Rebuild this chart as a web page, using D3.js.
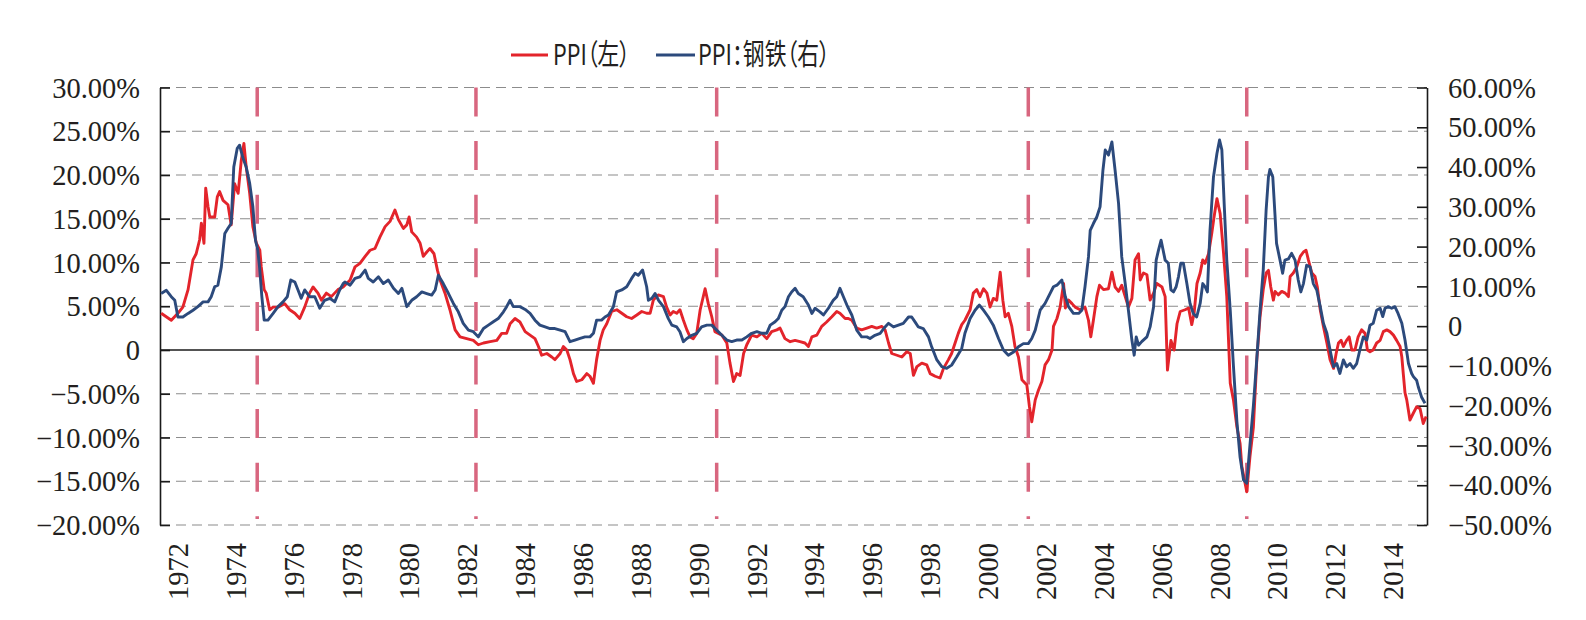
<!DOCTYPE html>
<html><head><meta charset="utf-8">
<script src="https://cdn.jsdelivr.net/npm/d3@7"></script>
<style>
html,body{margin:0;padding:0;background:#fff;}
svg{display:block;}
</style>
</head><body>
<svg id="chart" width="1586" height="620"></svg>
<script>
// ---------- DATA ----------
const yearTicks = [1972,1974,1976,1978,1980,1982,1984,1986,1988,1990,1992,1994,1996,1998,2000,2002,2004,2006,2008,2010,2012,2014];
const leftTicks = [30,25,20,15,10,5,0,-5,-10,-15,-20];
const rightTicks = [60,50,40,30,20,10,0,-10,-20,-30,-40,-50];
const markerDates = [1974.74,1982.30,1990.62,2001.39,2008.94];
const seriesNames = ["PPI（左）","PPI：钢铁（右）"];

const ppiDates = [1971.42,1971.77,1972.00,1972.17,1972.35,1972.52,1972.63,1972.75,1972.81,1972.90,1972.96,1973.04,1973.10,1973.27,1973.36,1973.44,1973.56,1973.73,1973.84,1973.96,1974.08,1974.19,1974.28,1974.36,1974.48,1974.59,1974.71,1974.83,1974.88,1974.98,1975.05,1975.17,1975.29,1975.46,1975.69,1975.86,1976.04,1976.21,1976.38,1976.55,1976.67,1976.84,1976.96,1977.13,1977.30,1977.53,1977.71,1977.95,1978.12,1978.29,1978.47,1978.64,1978.81,1978.98,1979.16,1979.33,1979.50,1979.62,1979.79,1979.91,1979.99,1980.08,1980.25,1980.37,1980.48,1980.60,1980.71,1980.85,1980.97,1981.06,1981.23,1981.40,1981.58,1981.75,1981.98,1982.21,1982.38,1982.56,1982.79,1983.02,1983.19,1983.36,1983.48,1983.65,1983.82,1984.00,1984.17,1984.34,1984.46,1984.57,1984.75,1984.92,1985.03,1985.21,1985.32,1985.44,1985.55,1985.67,1985.78,1985.96,1986.13,1986.24,1986.36,1986.47,1986.59,1986.70,1986.82,1986.99,1987.17,1987.34,1987.51,1987.68,1987.86,1988.03,1988.20,1988.32,1988.43,1988.60,1988.78,1988.89,1989.01,1989.12,1989.24,1989.35,1989.47,1989.59,1989.70,1989.81,1989.93,1990.05,1990.22,1990.33,1990.45,1990.56,1990.80,1990.97,1991.08,1991.20,1991.31,1991.43,1991.55,1991.66,1991.83,1992.01,1992.18,1992.35,1992.52,1992.70,1992.81,1992.98,1993.16,1993.33,1993.50,1993.67,1993.79,1993.91,1994.08,1994.25,1994.42,1994.60,1994.77,1994.88,1995.06,1995.17,1995.29,1995.46,1995.63,1995.81,1995.98,1996.15,1996.33,1996.44,1996.56,1996.67,1996.85,1997.02,1997.19,1997.31,1997.42,1997.54,1997.71,1997.88,1998.00,1998.17,1998.34,1998.46,1998.63,1998.74,1998.86,1998.97,1999.09,1999.20,1999.38,1999.49,1999.61,1999.72,1999.84,1999.96,2000.07,2000.18,2000.30,2000.42,2000.51,2000.59,2000.70,2000.82,2000.93,2001.05,2001.17,2001.34,2001.43,2001.51,2001.63,2001.74,2001.86,2001.97,2002.09,2002.21,2002.26,2002.38,2002.49,2002.61,2002.67,2002.78,2002.90,2003.01,2003.18,2003.35,2003.47,2003.55,2003.64,2003.76,2003.85,2003.99,2004.16,2004.28,2004.39,2004.51,2004.62,2004.74,2004.85,2004.97,2005.08,2005.20,2005.26,2005.37,2005.49,2005.60,2005.72,2005.83,2006.01,2006.12,2006.20,2006.32,2006.43,2006.53,2006.64,2006.81,2006.93,2007.04,2007.12,2007.22,2007.33,2007.42,2007.50,2007.62,2007.73,2007.81,2007.91,2008.02,2008.14,2008.25,2008.37,2008.48,2008.60,2008.71,2008.77,2008.94,2009.05,2009.17,2009.29,2009.40,2009.51,2009.61,2009.69,2009.77,2009.86,2009.92,2010.03,2010.15,2010.27,2010.38,2010.44,2010.55,2010.67,2010.79,2010.90,2010.99,2011.07,2011.19,2011.30,2011.38,2011.48,2011.59,2011.71,2011.82,2011.94,2012.03,2012.11,2012.20,2012.28,2012.39,2012.48,2012.57,2012.68,2012.79,2012.91,2013.03,2013.11,2013.20,2013.31,2013.43,2013.55,2013.66,2013.78,2013.89,2014.01,2014.12,2014.24,2014.30,2014.35,2014.41,2014.47,2014.58,2014.70,2014.81,2014.93,2015.04,2015.14];
const ppiValues = [4.2,3.4,4.2,4.9,6.9,10.3,11.0,12.6,14.5,12.2,18.5,16.4,15.2,15.2,17.5,18.1,17.1,16.6,14.3,19.0,17.9,21.7,23.6,20.9,17.9,14.1,12.2,11.4,9.5,6.9,6.5,4.6,4.9,4.9,5.3,4.6,4.2,3.6,4.9,6.5,7.2,6.5,5.7,6.5,6.1,6.9,7.2,8.0,9.5,9.9,10.7,11.4,11.6,12.9,14.1,14.7,16.0,14.9,13.9,14.3,15.2,13.5,12.9,12.2,10.7,11.2,11.6,11.0,9.1,8.0,6.5,4.6,2.3,1.5,1.3,1.1,0.6,0.8,0.95,1.1,1.9,1.9,3.0,3.6,3.2,2.1,1.7,1.3,0.4,-0.6,-0.4,-0.8,-1.1,-0.4,0.4,0,-1.1,-2.7,-3.6,-3.4,-2.7,-3.0,-3.8,-1.1,1.1,2.3,3.0,4.4,4.6,4.2,3.8,3.6,4.0,4.4,4.2,4.2,5.7,6.3,6.1,4.9,4.0,4.4,4.2,4.6,3.4,2.3,1.5,1.3,1.9,4.6,7.0,5.3,3.8,2.1,1.7,0.8,-1.5,-3.6,-2.7,-2.9,-0.4,0.6,1.7,1.5,1.9,1.3,2.1,2.3,2.5,1.3,0.95,1.1,0.95,0.8,0.4,1.5,1.7,2.7,3.2,3.8,4.4,4.2,3.6,3.6,3.4,2.5,2.3,2.5,2.7,2.5,2.7,2.3,0.8,-0.4,-0.6,-0.8,-0.2,-0.4,-2.9,-1.9,-1.5,-1.7,-2.7,-3.0,-3.2,-2.1,-1.1,-0.4,0.8,1.9,2.9,3.4,4.6,6.5,6.9,6.1,7.0,6.5,4.9,5.9,5.7,8.9,5.7,3.8,4.2,2.7,0.4,-0.8,-3.4,-4.0,-6.5,-8.2,-5.7,-4.6,-3.6,-1.7,-1.1,0.0,2.7,3.6,4.9,7.6,4.8,5.7,5.3,4.9,4.6,4.9,3.4,1.5,3.4,6.1,7.4,6.9,7.0,8.9,7.2,6.7,7.4,6.1,4.9,5.9,10.3,11.0,8.0,8.8,8.6,5.7,6.5,7.6,7.2,6.1,-2.3,1.1,0,3.0,4.4,4.6,4.8,2.9,4.2,7.6,8.8,10.3,9.9,11.0,13.3,15.2,17.3,15.6,11.0,6.1,-3.8,-5.7,-8.8,-10.7,-13.3,-16.2,-12.2,-8.8,-1.0,3.8,6.9,8.8,9.1,7.2,5.7,6.7,6.3,6.7,6.5,6.1,8.4,8.8,9.5,10.7,11.2,11.4,10.3,8.8,8.4,7.2,4.6,2.7,0.8,-1.1,-2.1,-0.4,0.8,1.1,0.4,1.1,1.5,0,0,1.5,2.3,1.9,0,-0.2,0,0.8,1.1,2.1,2.3,2.1,1.7,1.1,0.4,-0.8,-2.7,-4.9,-5.7,-8.0,-7.2,-6.5,-6.7,-8.4,-7.6];

const steelDates = [1971.42,1971.60,1971.77,1971.89,1972.00,1972.17,1972.35,1972.52,1972.69,1972.87,1973.04,1973.15,1973.27,1973.38,1973.50,1973.62,1973.73,1973.84,1973.93,1974.05,1974.13,1974.25,1974.36,1974.48,1974.59,1974.68,1974.76,1974.82,1974.90,1974.98,1975.11,1975.29,1975.46,1975.63,1975.78,1975.90,1976.04,1976.15,1976.26,1976.38,1976.55,1976.73,1976.90,1977.07,1977.25,1977.42,1977.59,1977.71,1977.77,1977.95,1978.12,1978.29,1978.47,1978.58,1978.75,1978.93,1979.10,1979.27,1979.45,1979.62,1979.74,1979.91,1980.08,1980.25,1980.43,1980.60,1980.77,1980.89,1981.00,1981.17,1981.35,1981.52,1981.69,1981.86,1982.04,1982.21,1982.38,1982.56,1982.73,1982.90,1983.07,1983.25,1983.36,1983.48,1983.59,1983.82,1984.00,1984.17,1984.34,1984.51,1984.69,1984.86,1985.03,1985.21,1985.38,1985.55,1985.72,1985.90,1986.07,1986.24,1986.36,1986.47,1986.64,1986.76,1986.88,1987.05,1987.16,1987.34,1987.51,1987.68,1987.80,1987.91,1988.06,1988.20,1988.26,1988.38,1988.49,1988.61,1988.78,1988.95,1989.07,1989.24,1989.35,1989.47,1989.59,1989.76,1989.93,1990.10,1990.28,1990.45,1990.62,1990.80,1990.97,1991.14,1991.31,1991.49,1991.66,1991.83,1992.01,1992.18,1992.35,1992.47,1992.64,1992.75,1992.87,1992.98,1993.10,1993.21,1993.33,1993.44,1993.61,1993.79,1993.91,1994.02,1994.19,1994.31,1994.48,1994.65,1994.77,1994.88,1995.00,1995.12,1995.29,1995.46,1995.63,1995.81,1995.92,1996.09,1996.27,1996.44,1996.56,1996.73,1996.90,1997.07,1997.25,1997.36,1997.48,1997.59,1997.76,1997.94,1998.05,1998.23,1998.40,1998.57,1998.74,1998.92,1999.09,1999.20,1999.38,1999.55,1999.70,1999.84,2000.01,2000.18,2000.36,2000.53,2000.70,2000.88,2001.05,2001.22,2001.39,2001.51,2001.63,2001.80,2001.97,2002.14,2002.26,2002.38,2002.55,2002.67,2002.78,2002.95,2003.13,2003.24,2003.35,2003.47,2003.53,2003.64,2003.76,2003.87,2003.97,2004.05,2004.16,2004.28,2004.39,2004.51,2004.62,2004.74,2004.85,2004.97,2005.05,2005.12,2005.20,2005.31,2005.49,2005.60,2005.72,2005.81,2005.89,2005.98,2006.12,2006.23,2006.32,2006.41,2006.50,2006.58,2006.66,2006.75,2006.87,2006.98,2007.09,2007.21,2007.33,2007.42,2007.50,2007.58,2007.67,2007.79,2007.91,2008.00,2008.08,2008.16,2008.25,2008.37,2008.48,2008.60,2008.71,2008.83,2008.94,2009.05,2009.17,2009.29,2009.40,2009.51,2009.61,2009.69,2009.74,2009.84,2009.92,2009.97,2010.09,2010.18,2010.26,2010.38,2010.49,2010.61,2010.72,2010.81,2010.90,2011.01,2011.13,2011.24,2011.36,2011.48,2011.59,2011.71,2011.82,2011.94,2012.05,2012.16,2012.28,2012.39,2012.51,2012.62,2012.74,2012.85,2012.97,2013.09,2013.20,2013.31,2013.43,2013.55,2013.64,2013.72,2013.83,2013.95,2014.06,2014.17,2014.30,2014.41,2014.53,2014.64,2014.70,2014.81,2014.87,2014.98,2015.10];
const steelValues = [8.2,9.0,7.4,6.5,2.3,2.3,3.2,4.0,4.9,6.1,6.1,7.4,9.9,10.3,14.9,23.3,24.6,25.8,40.0,44.7,45.5,42.2,40.0,35.9,30.0,21.6,19.1,14.9,7.4,1.5,1.5,3.2,4.9,6.1,7.4,11.6,11.1,9.1,7.0,9.1,7.4,7.4,4.5,6.5,7.0,6.1,9.1,10.7,11.1,10.3,12.0,12.4,14.1,12.0,11.1,12.4,10.7,11.6,9.5,8.2,9.5,4.9,6.5,7.4,8.6,8.2,7.8,9.1,12.8,10.7,8.2,5.7,3.6,0.7,-1.0,-1.4,-2.7,-0.6,0.25,1.1,1.9,3.6,4.9,6.5,4.9,4.9,4.2,3.2,1.5,0.25,-0.2,-0.6,-0.6,-1.0,-1.4,-3.9,-3.5,-3.1,-2.7,-2.7,-1.8,1.5,1.5,2.3,2.8,4.9,8.6,9.1,9.9,12.0,13.3,12.8,14.1,9.9,6.5,7.0,8.2,6.5,4.9,1.9,0.25,-0.2,-1.4,-3.9,-3.1,-2.3,-1.8,-0.2,0.25,0.25,-1.0,-2.3,-3.5,-3.9,-3.5,-3.5,-2.7,-1.8,-1.4,-1.8,-1.8,0.25,1.1,1.9,4.0,4.9,7.4,8.6,9.5,8.2,7.4,5.3,3.2,4.5,3.6,2.8,4.5,6.5,7.4,9.5,7.4,5.3,2.8,-1.0,-2.7,-2.7,-3.1,-2.3,-1.8,-0.2,0.7,-0.2,0.25,0.7,2.3,2.3,1.0,-0.2,-0.6,-2.7,-5.2,-8.5,-10.2,-10.6,-9.8,-7.7,-5.6,-1.8,1.9,4.0,5.3,4.0,2.3,0.25,-3.1,-6.0,-7.3,-6.5,-5.2,-4.4,-4.4,-3.1,-1.0,4.0,5.7,8.2,9.9,10.3,11.6,7.4,4.9,3.2,3.2,4.0,9.9,17.4,24.1,25.8,27.5,30.0,39.2,44.3,43.0,46.3,39.2,30.8,17.4,10.7,4.0,-3.5,-7.3,-2.7,-4.8,-3.9,-2.7,-0.2,4.9,16.6,19.1,21.6,16.6,15.8,9.1,8.6,9.9,12.4,15.8,15.8,10.7,5.7,3.2,2.3,5.7,10.7,9.9,8.6,24.1,37.5,43.4,46.8,44.3,30.8,16.6,4.0,-10.0,-24.0,-33.0,-38.7,-39.5,-30.0,-20.0,-8.0,4.0,14.1,29.2,37.5,39.4,37.5,27.5,20.8,16.6,13.3,16.6,16.9,18.3,16.6,11.6,8.6,10.7,15.3,14.9,10.7,9.1,4.9,0.7,-1.8,-6.0,-10.2,-9.4,-11.9,-8.5,-10.2,-9.4,-10.6,-9.4,-6.0,-2.7,-3.5,0.25,0.7,4.0,4.5,2.4,4.5,4.9,4.5,4.9,3.2,0.7,-3.5,-9.4,-11.9,-12.7,-13.6,-15.3,-17.8,-19.4];

// ---------- LAYOUT ----------
const svg = d3.select("#chart");
const L = 160, R = 1427, T = 87.5, B = 525;
const x = d3.scaleLinear().domain([1971.38, 2015.17]).range([L, R]);
const yL = d3.scaleLinear().domain([-20, 30]).range([B, T]);
const yR = d3.scaleLinear().domain([-50, 60]).range([B, T]);

const RED = "#e3242b", BLUE = "#2c4a7c", PINK = "#d8667f";
const fmt = v => v === 0 ? "0" : (v < 0 ? "\u2212" : "") + Math.abs(v).toFixed(2) + "%";
const tickFont = "'Liberation Serif','Times New Roman',serif";

// gridlines
svg.append("g").selectAll("line").data(leftTicks.filter(d => d !== 0)).join("line")
  .attr("x1", L).attr("x2", R).attr("y1", d => yL(d)).attr("y2", d => yL(d))
  .attr("stroke", "#8c8c8c").attr("stroke-width", 1.2).attr("stroke-dasharray", "10,6");

// marker lines
svg.append("g").selectAll("line").data(markerDates).join("line")
  .attr("x1", d => x(d)).attr("x2", d => x(d)).attr("y1", T).attr("y2", 519)
  .attr("stroke", PINK).attr("stroke-width", 3.5).attr("stroke-dasharray", "29,24.6");

// zero line
svg.append("line").attr("x1", L).attr("x2", R).attr("y1", yL(0)).attr("y2", yL(0))
  .attr("stroke", "#1a1a1a").attr("stroke-width", 1.6);

// left axis
const axL = d3.axisLeft(yL).tickValues(leftTicks).tickFormat(fmt).tickSizeInner(-10).tickSizeOuter(0).tickPadding(20);
const gL = svg.append("g").attr("transform", `translate(${L},0)`).call(axL);
gL.select(".domain").attr("stroke", "#1a1a1a").attr("stroke-width", 1.6);
gL.selectAll(".tick line").attr("stroke", "#1a1a1a").attr("stroke-width", 1.6);
gL.selectAll("text").attr("font-family", tickFont).attr("font-size", 28.5).attr("fill", "#231f20").attr("dy", "0.34em");

// right axis
const axR = d3.axisRight(yR).tickValues(rightTicks).tickFormat(fmt).tickSizeInner(-10).tickSizeOuter(0).tickPadding(21);
const gR = svg.append("g").attr("transform", `translate(${R},0)`).call(axR);
gR.select(".domain").attr("stroke", "#1a1a1a").attr("stroke-width", 1.6);
gR.selectAll(".tick line").attr("stroke", "#1a1a1a").attr("stroke-width", 1.6);
gR.selectAll("text").attr("font-family", tickFont).attr("font-size", 28.5).attr("fill", "#231f20").attr("dy", "0.34em");

// x labels
svg.append("g").selectAll("text").data(yearTicks).join("text")
  .attr("transform", d => `translate(${x(d)},543) rotate(-90)`)
  .attr("text-anchor", "end").attr("dy", "0.35em")
  .attr("font-family", tickFont).attr("font-size", 28.5).attr("fill", "#231f20")
  .text(d => d);

// series
const ppiData = ppiDates.map((d, i) => [d, ppiValues[i]]);
const steelData = steelDates.map((d, i) => [d, steelValues[i]]);
svg.append("path").datum(ppiData)
  .attr("d", d3.line().x(d => x(d[0])).y(d => yL(d[1])))
  .attr("fill", "none").attr("stroke", RED).attr("stroke-width", 2.9).attr("stroke-linejoin", "round");
svg.append("path").datum(steelData)
  .attr("d", d3.line().x(d => x(d[0])).y(d => yR(d[1])))
  .attr("fill", "none").attr("stroke", BLUE).attr("stroke-width", 2.9).attr("stroke-linejoin", "round");

// legend
const legend = [
  {name: seriesNames[0], color: RED, x0: 511, x1: 548, tx: 553, tw: 77},
  {name: seriesNames[1], color: BLUE, x0: 656, x1: 695, tx: 698, tw: 132}
];
const lg = svg.append("g");
legend.forEach(it => {
  lg.append("line").attr("x1", it.x0).attr("x2", it.x1).attr("y1", 55).attr("y2", 55)
    .attr("stroke", it.color).attr("stroke-width", 3);
  lg.append("text").attr("x", it.tx).attr("y", 65)
    .attr("font-family", "'Noto Sans CJK SC','Noto Sans',sans-serif").attr("font-size", 29)
    .style("font-feature-settings", "'palt' 1")
    .attr("textLength", it.tw).attr("lengthAdjust", "spacingAndGlyphs")
    .attr("fill", "#231f20").text(it.name);
});
</script>
</body></html>
